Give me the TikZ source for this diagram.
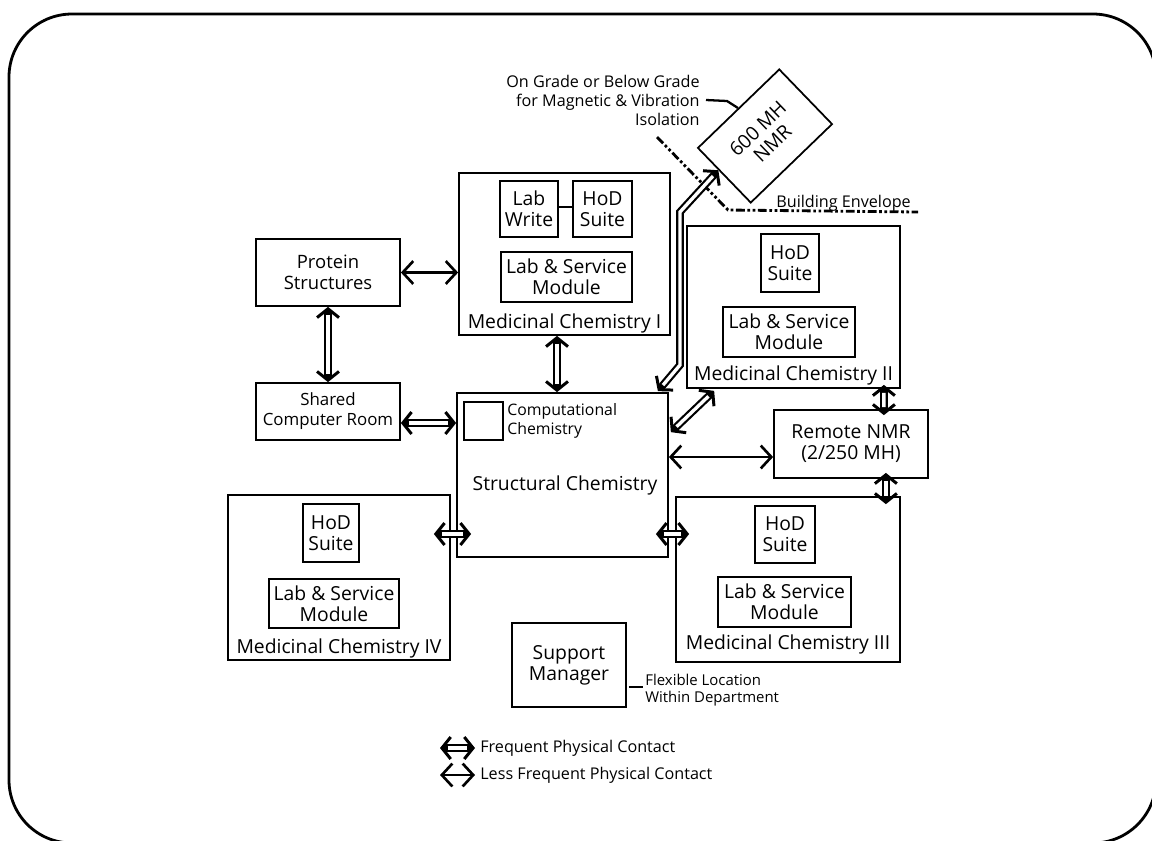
\documentclass[tikz,border=0pt]{standalone}
\usepackage{fontspec}
\setmainfont{Open Sans}
\usetikzlibrary{arrows.meta,calc}
\begin{document}
\begin{tikzpicture}[x=0.02cm,y=-0.02cm,
  box/.style={draw,line width=1pt,inner sep=0pt,align=center},
  wh/.style 2 args={minimum width=#1*0.02cm,minimum height=#2*0.02cm},
  t11/.style={font=\fontsize{11}{12}\selectfont},
  t10/.style={font=\fontsize{10.5}{12}\selectfont},
  t9/.style={font=\fontsize{9.6}{11.5}\selectfont},
  lbl/.style={inner sep=0pt,font=\fontsize{11}{12}\selectfont},
  note/.style={inner sep=0pt,align=right,font=\fontsize{9.2}{10.8}\selectfont},
  less/.style={line width=1.5pt,{Straight Barb[length=6pt,width=13pt]}-{Straight Barb[length=6pt,width=13pt]}},
  freqtip/.tip={Straight Barb[length=5pt,width=12.5pt,line width=1.7pt]},
  freq/.style={line width=4.4pt,{freqtip}-{freqtip},
    postaction={draw=white,line width=1.9pt,arrows=-,shorten <=4.5pt,shorten >=4.5pt}},
  envelope/.style={line width=1.6pt,dash pattern=on 5pt off 1.5pt on 1.5pt off 1.5pt on 1.5pt off 1.5pt}
]
\useasboundingbox (0,0) rectangle (1152,840);
\draw[line width=1.6pt,rounded corners=1.26cm] (9,14) rectangle (1156,843);

% boxes
\node[box,t10,wh={144}{67}] (prot) at (328,272.5) {Protein\\Structures};
\node[box,t9,wh={144}{57}] (shared) at (328,411.5) {Shared\\Computer Room};

\node[box,wh={211}{162}] (mc1) at (564.5,254) {};
\node[box,t11,wh={58}{56}] (lw1) at (529,209) {Lab\\Write};
\node[box,t11,wh={59}{56}] (hod1) at (602.5,209) {HoD\\Suite};
\node[box,t11,wh={131}{50}] (lsm1) at (566.5,277) {Lab \& Service\\Module};
\node[lbl] (lab1) at (564.5,323) {Medicinal Chemistry I};

\node[box,wh={211}{164}] (struct) at (562.5,475) {};
\node[box,wh={39}{38}] (comp) at (483.5,421) {};
\node[inner sep=0pt,align=left,anchor=west,font=\fontsize{9}{10.5}\selectfont] (compt) at (507,421) {Computational\\Chemistry};
\node[lbl] (slab) at (565,485) {Structural Chemistry};

\node[box,wh={213}{162}] (mc2) at (793.5,307) {};
\node[box,t11,wh={58}{58}] (hod2) at (790,263) {HoD\\Suite};
\node[box,t11,wh={132}{50}] (lsm2) at (789,332) {Lab \& Service\\Module};
\node[lbl] (lab2) at (793.5,375) {Medicinal Chemistry II};

\node[box,t11,wh={154}{68}] (rnmr) at (851,444) {Remote NMR\\(2/250 MH)};

\node[box,wh={222}{165}] (mc4) at (339,577.5) {};
\node[box,t11,wh={56}{58}] (hod4) at (331,533) {HoD\\Suite};
\node[box,t11,wh={130}{49}] (lsm4) at (334,603.5) {Lab \& Service\\Module};
\node[lbl] (lab4) at (339,648) {Medicinal Chemistry IV};

\node[box,wh={224}{165}] (mc3) at (788,579.5) {};
\node[box,t11,wh={60}{57}] (hod3) at (785,534.5) {HoD\\Suite};
\node[box,t11,wh={133}{50}] (lsm3) at (784.5,602) {Lab \& Service\\Module};
\node[lbl] (lab3) at (788,644) {Medicinal Chemistry III};

\node[box,t11,wh={114}{84}] (supp) at (569,665) {Support\\Manager};

\node[box,wh={113}{76},rotate=44,font=\fontsize{11}{12}\selectfont] (nmr) at (765,136) {600 MH\\NMR};

% annotations
\node[note,anchor=east] (grade) at (700,100) {On Grade or Below Grade\\for Magnetic \& Vibration\\Isolation};
\draw[line width=1.3pt] (706,100) -- (727,101) -- (nmr.north);
\node[note,anchor=west] (benv) at (776,203) {Building Envelope};
\draw[envelope] (657,137) -- (728,210) -- (918,212);
\node[inner sep=0pt,align=left,anchor=west,font=\fontsize{8.5}{9.5}\selectfont] (flex) at (645,690) {Flexible Location\\Within Department};
\coordinate (fl) at (0,687);
\draw[line width=1.3pt] ($(supp.east |- fl)+(2,0)$) -- ++(14,0);

% connectors
\draw[less] (prot.east) -- (mc1.west |- prot.east);
\draw[freq] (prot.south) -- (shared.north);
\coordinate (y423) at (0,423);
\draw[freq] (shared.east |- y423) -- (struct.west |- y423);
\coordinate (x557) at (557,0);
\draw[freq] (mc1.south -| x557) -- (struct.north -| x557);
\draw[freq] ($(struct.north east)+(2,40)$) -- ($(mc2.south west)+(28,2)$);
\coordinate (r1) at ($(rnmr.west)+(0,13)$);
\draw[less] (struct.east |- r1) -- (r1);
\draw[freq] ($(mc2.south east)+(-17,-4)$) -- ($(rnmr.north east)+(-45,6)$);
\draw[freq] ($(rnmr.south east)+(-43,-6)$) -- ($(mc3.north east)+(-15,8)$);
\coordinate (y534) at (0,534);
\draw[freq] ($(mc4.east |- y534)+(-17,0)$) -- ($(struct.west |- y534)+(15,0)$);
\draw[freq] ($(struct.east |- y534)+(-13,0)$) -- ($(mc3.west |- y534)+(14,0)$);
\draw[freq] ($(struct.north east)+(-11,-1)$) -- (680,365) -- (680,212) -- ($(nmr.north west)!0.4!(nmr.south west)$);
\coordinate (y207) at (0,207);
\draw[line width=1pt] (lw1.east |- y207) -- (hod1.west |- y207);

% legend
\coordinate (lg1a) at (440,748);
\coordinate (lg1b) at (475,748);
\coordinate (lg2a) at (440,775);
\coordinate (lg2b) at (475,775);
\draw[freq] (lg1a) -- (lg1b);
\draw[less] (lg2a) -- (lg2b);
\node[note,anchor=west] (lt1) at (480,748) {Frequent Physical Contact};
\node[note,anchor=west] (lt2) at (480,775) {Less Frequent Physical Contact};
\end{tikzpicture}
\end{document}
